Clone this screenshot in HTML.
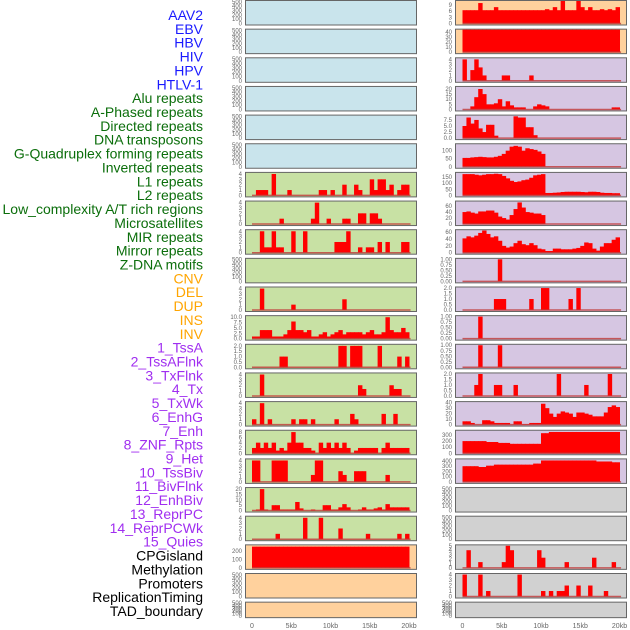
<!DOCTYPE html>
<html><head><meta charset="utf-8"><style>
html,body{margin:0;padding:0;background:#fff;}
svg{display:block;font-family:"Liberation Sans",sans-serif;}
</style></head><body>
<svg id="chart" width="630" height="630" viewBox="0 0 630 630" xmlns="http://www.w3.org/2000/svg"></svg>
<script>
// ---- data ----
const trackLabels = ["AAV2","EBV","HBV","HIV","HPV","HTLV-1","Alu repeats","A-Phased repeats","Directed repeats","DNA transposons","G-Quadruplex forming repeats","Inverted repeats","L1 repeats","L2 repeats","Low_complexity A/T rich regions","Microsatellites","MIR repeats","Mirror repeats","Z-DNA motifs","CNV","DEL","DUP","INS","INV","1_TssA","2_TssAFlnk","3_TxFlnk","4_Tx","5_TxWk","6_EnhG","7_Enh","8_ZNF_Rpts","9_Het","10_TssBiv","11_BivFlnk","12_EnhBiv","13_ReprPC","14_ReprPCWk","15_Quies","CPGisland","Methylation","Promoters","ReplicationTiming","TAD_boundary"];
const labelGroups = [6,13,5,15,5];
const xTickKb = [0,5,10,15,20];
const xTickLabels = ["0","5kb","10kb","15kb","20kb"];
const binKb = 0.5;

const L6 = [0,1,1,1,0,4,0,0,0,1,0,0,0,0,0,0,0,1,1,0,1,0,0,2,0,0,2,1,0,0,3,1,3,3,1,2,0,1,2,2];
const L7 = [0,0,0,0,0,0,0,1,0,0,0,0,0,0,0,1,4,0,0,1,0,0,0,1,1,0,0,2,2,0,2,2,1,0,0,0,0,0,0,0];
const L8 = [0,0,4,1,1,4,1,1,0,0,4,0,0,4,0,0,0,0,0,0,0,2,2,2,4,0,0,1,0,1,1,0,2,0,2,0,0,0,2,2];
const L10 = [0,0,4,0,0,0,0,0,0,0,1,0,0,0,0,0,0,0,0,0,0,0,0,2,0,0,0,0,0,0,0,0,0,0,0,0,0,0,0,0];
const L11 = [1,1,4,4,4,1,1,1,2,4,8,4,4,3,4,1,1,2,3,1,2,3,4,2,3,3,3,3,2,3,4,2,2,3,10,4,3,3,5,3];
const L12 = [0,0,0,0,0,0,0,1,1,0,0,0,0,0,0,0,0,0,0,0,0,0,2,2,0,2,2,2,0,0,0,0,2,0,0,0,0,1,0,1];
const L13 = [0,0,4,0,0,0,0,0,0,0,0,0,0,0,0,0,0,0,0,0,0,0,0,0,0,0,0,2,1.3,0,0,0,0,0,0,2,1.3,1.3,0,0];
const L14 = [1,0,4,0,1,0,0,0,0,0,1,0,1,1,0,1,0,0,0,0,0,1,0,0,0,2,1,0,0,0,0,0,0,2,0,0,2,0,0,0];
const L15 = [2,4,2,4,2,4,1,2,1,4,8,4,4,2,2,1,0,4,2,4,2,4,2,4,2,0,1,2,2,2,2,2,0,2,4,2,2,2,2,2];
const L16 = [4,4,0,0,0,4,4,4,4,0,0,0,0,0,0,1.3,4,4,0,0,0,0,2,1.3,0,0,2,2,2,0,0,0,0,0,1.3,0,0,0,0,0];
const L17 = [0,1,20,1,0,5,5,1,1,1,1,8,2,0,0,1,0,0,5,5,1,1,3,6,3,0,0,1,3,1,1,2,3,1,6,3,3,3,3,3];
const L18 = [0,0,0,0,0,0,1,0,0,0,0,0,0,4,0,0,0,4,0,0,0,0,2,0,0,0,0,0,0,1,0,0,0,0,0,0,0,1,0,1];
const L19 = [250,250,250,250,250,250,250,250,250,250,250,250,250,250,250,250,250,250,250,250,250,250,250,250,250,250,250,250,250,250,250,250,250,250,250,250,250,250,250,250];

const R0 = [6.5,6.5,6.5,6.5,10,6.5,6.5,6.5,8,6.5,6.5,6.5,6.5,6.5,6.5,6.5,6.5,6.5,6.5,6.5,6.5,7,6.5,8,6.5,11,6.5,6.5,6.5,11,8,6.5,8,6.5,6.5,7,6.5,7,6.5,8];
const R1 = [47,47,47,47,47,47,47,47,47,47,47,47,47,47,47,47,47,47,47,47,47,47,47,47,47,47,47,47,47,47,47,47,47,47,47,47,47,47,47,47];
const R2 = [4,0,2,4,2.5,1,0,0,0,0,1,1,0,0,0,0,0,1,0,0,0,0,0,0,0,0,0,0,0,0,0,0,0,0,0,0,0,0,0,0];
const R3 = [0,0,3,12,20,15,5,5,6,10,3,8,4,2,2,2,0,0,3,5,4,3,0,0,0,0,0,0,0,0,0,0,0,0,0,0,0,0,2,2];
const R4 = [5,8.5,6,7.5,4,2.5,5.5,5.5,1,0,0,0,0,9,8.5,8.5,4.5,4.5,1.2,0,0,0,0,0,0,0,0,0,0,0,0,0,0,0,0,0,0,0,0,0];
const R5 = [55,55,58,60,62,60,58,58,62,68,80,100,125,130,125,100,115,110,105,95,80,0,0,0,0,0,0,0,0,0,0,0,0,0,0,0,0,0,0,0];
const R6 = [175,175,175,170,165,170,175,175,178,175,160,140,120,110,115,125,130,145,165,170,175,20,20,22,24,28,30,30,30,30,28,26,30,30,28,22,20,20,18,18];
const R7 = [40,42,38,35,42,42,45,45,38,25,20,15,30,50,72,55,40,38,35,35,30,0,0,0,0,0,0,0,0,0,0,0,0,0,0,0,0,0,0,0];
const R8 = [42,48,45,50,58,65,55,45,48,35,20,15,18,28,35,25,22,28,22,12,10,5,5,12,12,10,10,10,12,14,20,30,28,12,6,18,28,28,38,45];
const R9 = [0,0,0,0,0,0,0,0,0,1,0,0,0,0,0,0,0,0,0,0,0,0,0,0,0,0,0,0,0,0,0,0,0,0,0,0,0,0,0,0];
const R10 = [0,0,0,0,0,0,0,0,1,1,1,0,0,0,0,0,0,1,0,0,2,2,0,0,0,0,0,1,0,2,0,0,0,0,0,0,0,0,0,0];
const R11 = [0,0,0,0,1,0,0,0,0,0,0,0,0,0,0,0,0,0,0,0,0,0,0,0,0,0,0,0,0,0,0,0,0,0,0,0,0,0,0,0];
const R12 = [0,0,0,0,1,0,0,0,0,1,0,0,0,0,0,0,0,0,0,0,0,0,0,0,0,0,0,0,0,0,0,0,0,0,0,0,0,0,0,0];
const R13 = [0,0,0,1,2,0,0,0,1,1,0,0,0,1,0,0,0,0,0,0,0,0,0,0,2,0,0,0,0,0,0,1,0,0,0,0,0,2,0,0];
const R14 = [6,6,3,0,0,8,8,6,3,3,3,3,0,6,6,1,1,3,3,3,38,30,20,14,20,24,22,20,14,22,22,20,18,15,15,15,22,32,35,32];
const R15 = [200,200,200,200,200,200,185,185,185,170,170,170,155,155,155,155,155,155,155,155,330,330,350,350,350,350,350,350,350,350,350,350,350,350,350,350,350,350,350,350];
const R16 = [300,300,300,300,285,285,310,310,330,330,330,330,330,330,330,330,330,330,350,350,410,410,410,410,410,410,410,410,410,410,410,410,410,410,390,390,390,390,375,375];
const R19 = [0,4,0,0,1.3,0,0,0,0,0,1.3,5,4,0,0,0,0,0,0,4,2.3,0,0,0,0,0,1.3,0,0,0,0,0,0,2.3,0,0,0,0,1.3,0];
const R20 = [4,0,0,0,4,0,1,0,0,0,0,0,0,0,4,0,0,0,0,0,1,0,1,0,1,1,2,0,0,2,0,0,2,0,0,0,1,0,0,0];

const T500 = [0,100,200,300,400,500];
const T4 = [0,1,2,3,4];
const T10 = [0,2.5,5,7.5,10];
const T2 = [0,0.5,1,1.5,2];
const T8 = [0,2,4,6,8];
const T20 = [0,5,10,15,20];
const T200 = [0,100,200];
const T9 = [0,3,6,9];
const T40 = [0,10,20,30,40];
const T75 = [0,2.5,5,7.5];
const T100 = [0,50,100];
const T150 = [0,50,100,150];
const T60 = [0,20,40,60];
const T1 = [0,0.25,0.5,0.75,1];
const T300 = [0,100,200,300];
const T400 = [0,100,200,300,400];
const T5 = [0,1,2,3,4,5];

// ---- layout / styles ----
const C = {blue:"#c9e4ec",green:"#c8e1a4",peach:"#ffd19d",lav:"#d6c6e2",grey:"#d1d1d1"};
const leftSpec = [
 [C.blue,null,520,T500,0],[C.blue,null,520,T500,0],[C.blue,null,520,T500,0],[C.blue,null,520,T500,0],[C.blue,null,520,T500,0],[C.blue,null,520,T500,0],
 [C.green,L6,4.2,T4,0],[C.green,L7,4.2,T4,0],[C.green,L8,4.2,T4,0],[C.green,null,520,T500,0],[C.green,L10,4.2,T4,0],
 [C.green,L11,10.5,T10,1],[C.green,L12,2.1,T2,1],[C.green,L13,4.2,T4,0],[C.green,L14,4.2,T4,0],[C.green,L15,8.5,T8,0],
 [C.green,L16,4.2,T4,0],[C.green,L17,21,T20,0],[C.green,L18,4.2,T4,0],[C.peach,L19,265,T200,0],[C.peach,null,520,T500,0],[C.peach,null,520,T500,0]];
const rightSpec = [
 [C.peach,R0,11,T9,0],[C.peach,R1,45,T40,0],[C.lav,R2,4.2,T4,0],[C.lav,R3,22,T20,0],[C.lav,R4,9.3,T75,1],[C.lav,R5,140,T100,0],
 [C.lav,R6,185,T150,0],[C.lav,R7,75,T60,0],[C.lav,R8,66,T60,0],[C.lav,R9,1.02,T1,2],[C.lav,R10,2.05,T2,1],[C.lav,R11,1.02,T1,2],
 [C.lav,R12,1.02,T1,2],[C.lav,R13,2.05,T2,1],[C.lav,R14,41,T40,0],[C.lav,R15,370,T300,0],[C.lav,R16,430,T400,0],
 [C.grey,null,520,T500,0],[C.grey,null,520,T500,0],[C.grey,R19,5.1,T5,0],[C.grey,R20,4.1,T4,0],[C.grey,null,520,T500,0]];

const NS="http://www.w3.org/2000/svg";
const svg=document.getElementById('chart');
function mk(tag,attrs,parent){const e=document.createElementNS(NS,tag);for(const k in attrs)e.setAttribute(k,attrs[k]);(parent||svg).appendChild(e);return e;}

// labels
const labelColors=["#1a1aff","#0b6e0b","#ffa500","#a02ef0","#000000"];
let gi=0,cnt=0;
trackLabels.forEach((t,i)=>{
  while(cnt>=labelGroups[gi]){gi++;cnt=0;}
  cnt++;
  const e=mk('text',{x:203,y:(15+i*13.86+5).toFixed(1),'text-anchor':'end','font-size':'14',fill:labelColors[gi]});
  e.textContent=t;
  
  
});

const colsX=[{px:245,pw:171,x0:252},{px:455,pw:171,x0:462.5}];
const kbPx=7.85;
function rowTop(i){return i*28.65;}
function rowH(i){return i===21?16:25;}

[leftSpec,rightSpec].forEach((spec,ci)=>{
  const col=colsX[ci];
  const xs=kb=>col.x0+kb*kbPx;
  spec.forEach((s,ri)=>{
    const [bg,data,ymax,ticks,dec]=s;
    const top=rowTop(ri),h=rowH(ri),bot=top+h;
    const ys=v=>bot-1.5-Math.min(v,ymax)/ymax*(h-2.5);
    const g=mk('g',{});
    
    
    const r=mk('rect',{x:col.px+0.5,y:top+0.5,width:col.pw,height:h-0.5,fill:bg,stroke:'#666','stroke-width':1},g);
    
    
    ticks.forEach(tv=>{
      const t=mk('text',{x:col.px-3,y:(ys(tv)+2).toFixed(1),'text-anchor':'end','font-size':'6',fill:'#666'},g);
      t.textContent=tv.toFixed(dec);
      
      
    });
    if(data){
      data.forEach((v,i)=>{
        if(v<=0)return;
        const x=xs(i*binKb),y=ys(v);
        const b=mk('rect',{x:x.toFixed(2),y:y.toFixed(2),width:(binKb*kbPx+0.5).toFixed(2),height:(ys(0)-y).toFixed(2),fill:'#ff0000'},g);
        
        
      });
      const rug=mk('line',{x1:xs(0),x2:xs(20.2),y1:ys(0),y2:ys(0),stroke:'#c03a3a','stroke-width':1.5,'stroke-opacity':0.8},g);
      
      
    }
  });
  xTickKb.forEach((k,i)=>{
    const t=mk('text',{x:xs(k),y:628,'text-anchor':'middle','font-size':'7',fill:'#666'});
    t.textContent=xTickLabels[i];
    
    
  });
});
</script>
</body></html>
